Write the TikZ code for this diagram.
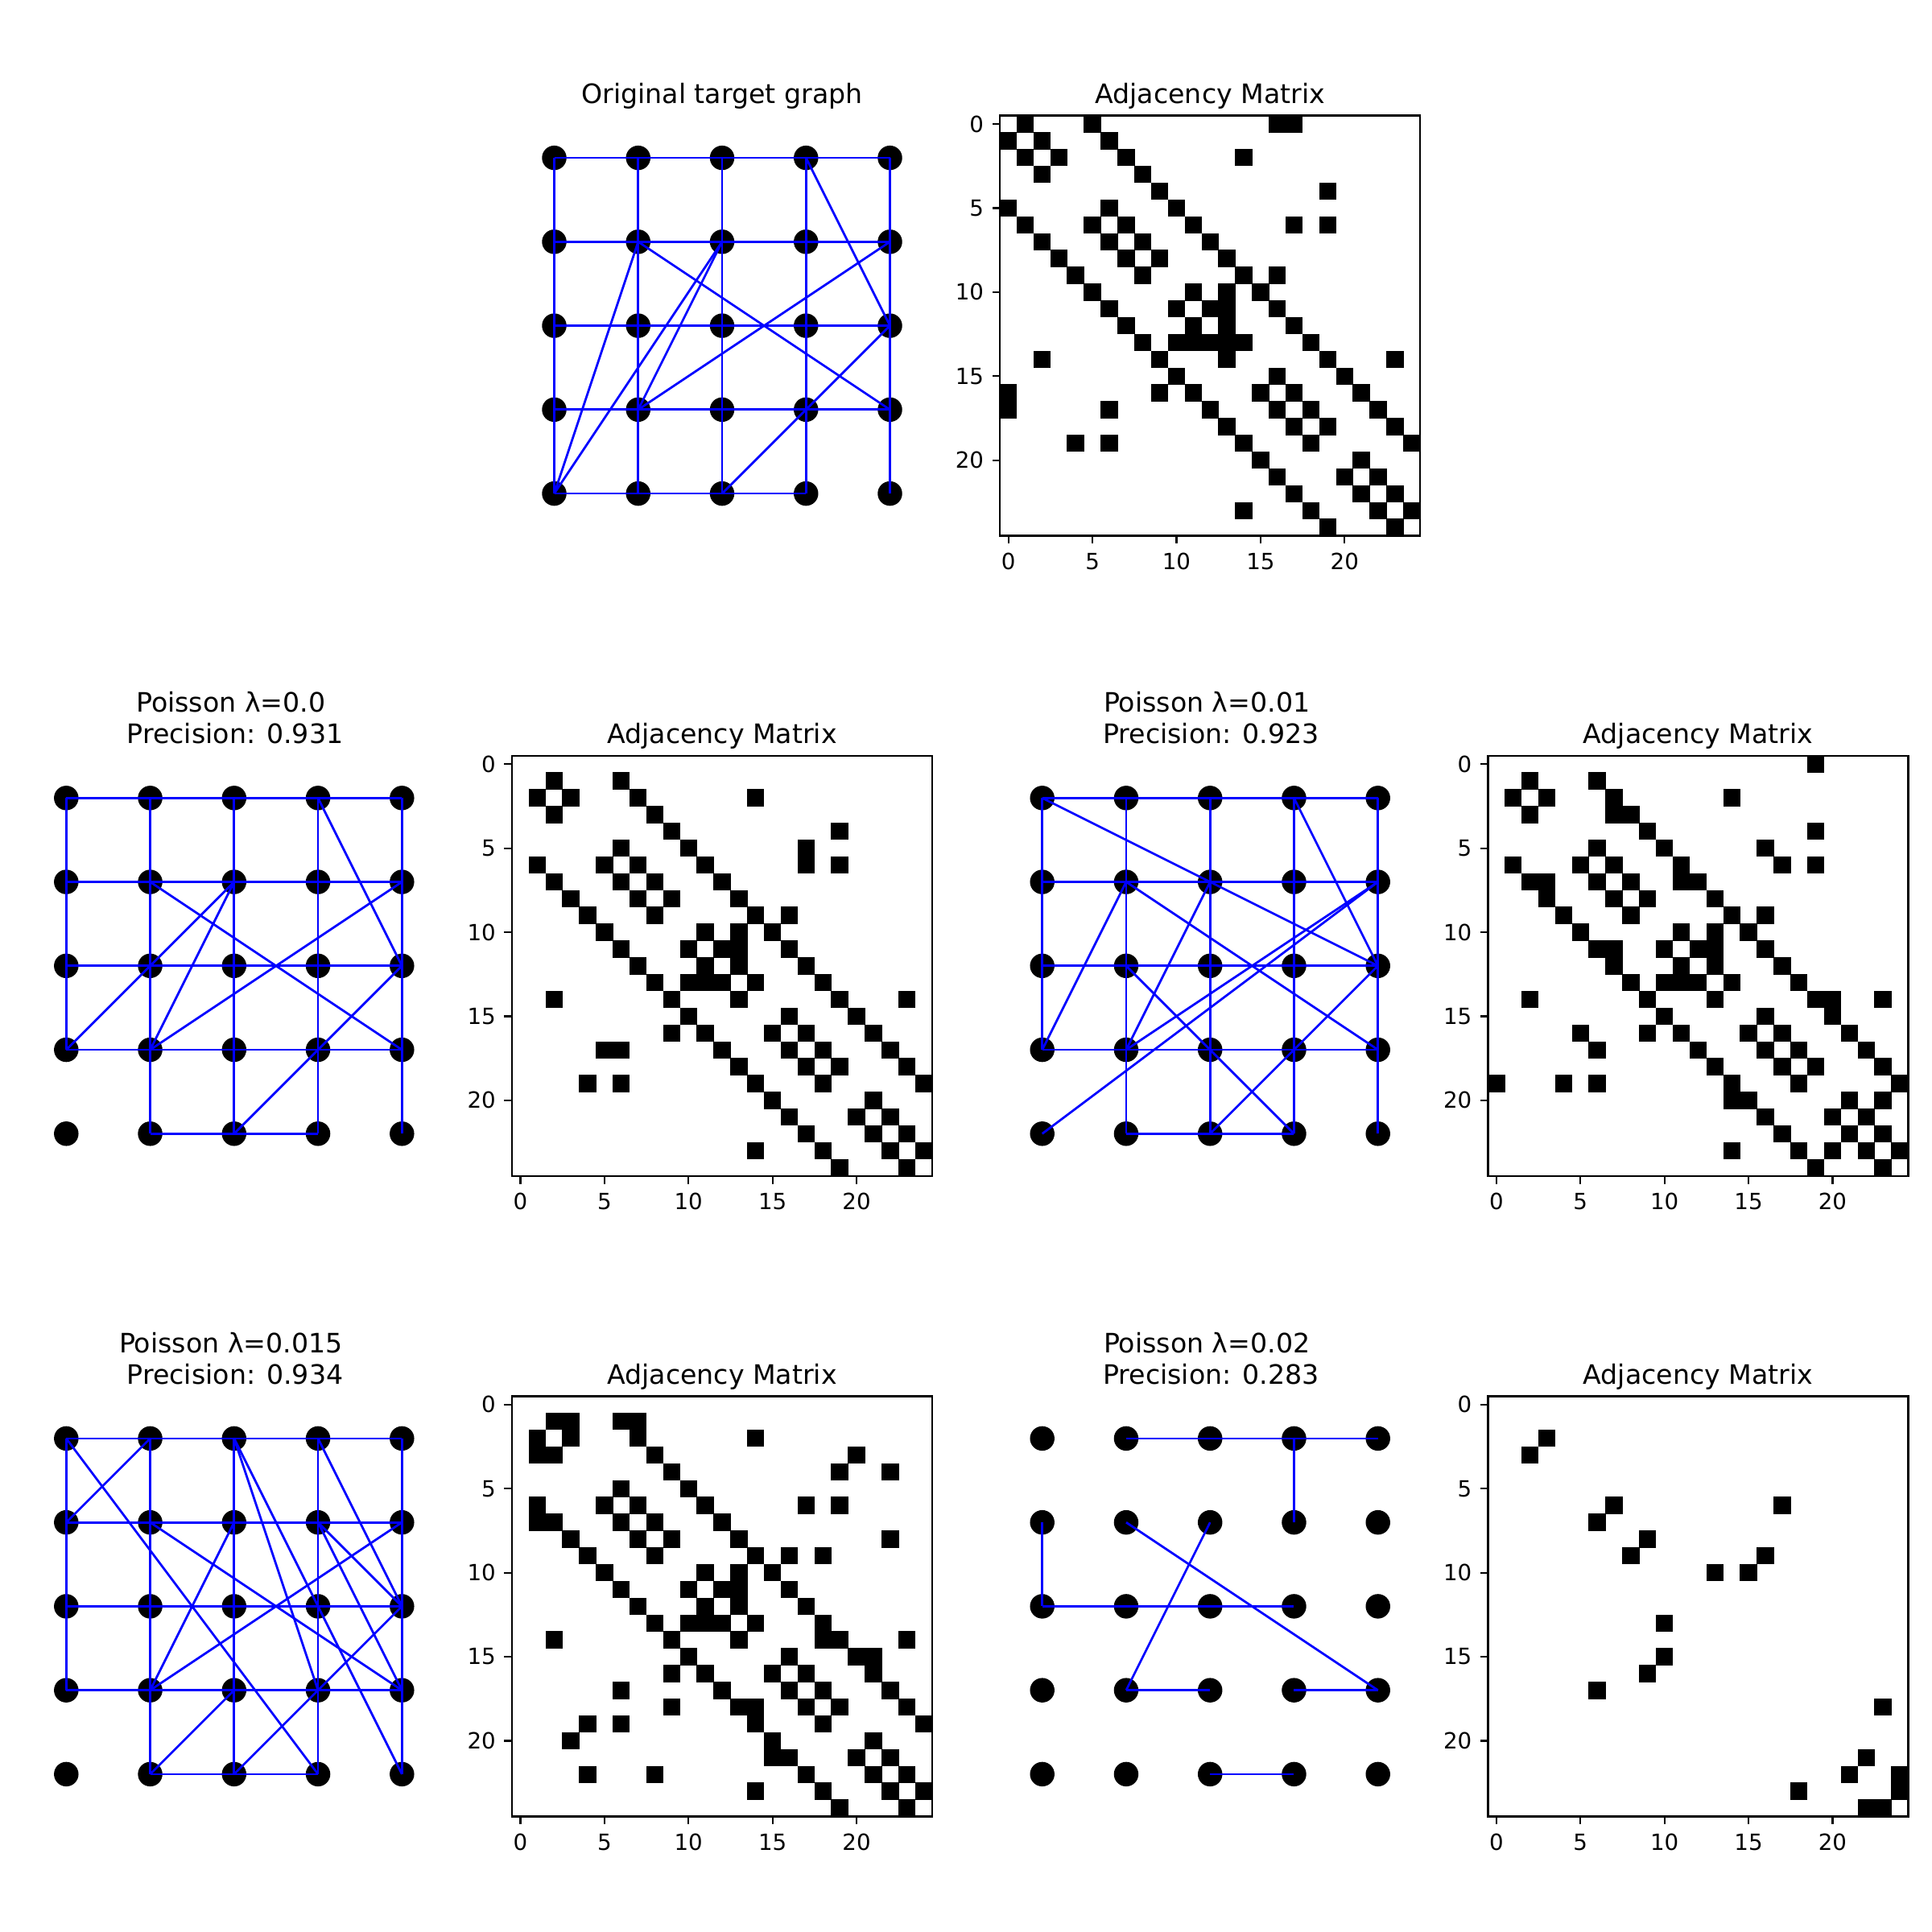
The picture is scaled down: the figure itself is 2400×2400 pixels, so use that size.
\documentclass[tikz,border=0pt]{standalone}
\usepackage{fontspec}
\setmainfont{DejaVu Sans}
\tikzset{
  gnode/.style={circle, fill=black, draw=none, inner sep=0pt, minimum size=3.87mm},
  gedge/.style={draw=blue, line width=1pt},
  spine/.style={draw=black, line width=0.8pt},
  tickmark/.style={draw=black, line width=0.8pt},
  ticklabel/.style={inner sep=0pt, font=\fontsize{10}{12}\selectfont},
  titletext/.style={inner sep=0pt, anchor=base, font=\fontsize{12}{14.4}\selectfont},
}
% #1 prefix, #2 cx, #3 cy
\newcommand\gridnodes[3]{%
  \foreach \ii in {0,...,24}{%
    \pgfmathtruncatemacro\myc{mod(\ii,5)}%
    \pgfmathtruncatemacro\myr{div(\ii,5)}%
    \node[gnode] (#1\ii) at ({#2+(\myc-2)*104.25},{#3-(\myr-2)*104.25}) {};
  }}
% #1 prefix, #2 list a/b
\newcommand\gridedges[2]{%
  \foreach \ea/\eb in {#2}{\draw[gedge] (#1\ea.center) -- (#1\eb.center);}}
% #1 prefix, #2 cx, #3 cy, #4 data rows
\newcommand\adjmat[4]{%
  \foreach \mr/\mcl in {#4}{%
    \foreach \mcc in \mcl {%
      \fill[black] ({#2-261+\mcc*20.88-0.25},{#3-261+\mr*20.88-0.25}) rectangle ++(21.38,21.38);
    }%
  }%
  \draw[spine] ({#2-261},{#3-261}) rectangle ({#2+261},{#3+261});
  \foreach \kk in {0,5,10,15,20}{%
    \draw[tickmark] ({#2-261+(\kk+0.5)*20.88},{#3+261}) -- ++(0,9.7);
    \node[ticklabel,anchor=north] (#1x\kk) at ({#2-261+(\kk+0.5)*20.88},{#3+261+21}) {\kk};
    \draw[tickmark] ({#2-261},{#3-261+(\kk+0.5)*20.88}) -- ++(-9.7,0);
    \node[ticklabel,anchor=east] (#1y\kk) at ({#2-261-19.6},{#3-261+(\kk+0.5)*20.88}) {\kk};
  }%
}
\begin{document}
\begin{tikzpicture}[x=0.127mm,y=-0.127mm]
\useasboundingbox[fill=white] (0,0) rectangle (2400,2400);

% ---------- titles ----------
\node[titletext] (t0) at (897,128.6) {Original target graph};
\node[titletext] (t1) at (1503.2,128.6) {Adjacency Matrix};
\node[titletext] (t2a) at (286.8,884.8) {Poisson λ=0.0};
\node[titletext] (t2b) at (292.1,923.8) {Precision: 0.931};
\node[titletext] (t3) at (897,923.8) {Adjacency Matrix};
\node[titletext] (t4a) at (1499.2,884.8) {Poisson λ=0.01};
\node[titletext] (t4b) at (1504.5,923.8) {Precision: 0.923};
\node[titletext] (t5) at (2109.4,923.8) {Adjacency Matrix};
\node[titletext] (t6a) at (286.8,1680.4) {Poisson λ=0.015};
\node[titletext] (t6b) at (292.1,1719.4) {Precision: 0.934};
\node[titletext] (t7) at (897,1719.4) {Adjacency Matrix};
\node[titletext] (t8a) at (1499.2,1680.4) {Poisson λ=0.02};
\node[titletext] (t8b) at (1504.5,1719.4) {Precision: 0.283};
\node[titletext] (t9) at (2109.4,1719.4) {Adjacency Matrix};

% ---------- original graph ----------
\gridnodes{gA}{897}{404.6}
\gridedges{gA}{0/1,0/5,0/16,0/17,1/2,1/6,2/3,2/7,2/14,3/8,4/9,4/19,5/6,5/10,6/7,6/11,6/17,6/19,7/8,7/12,8/9,8/13,9/14,9/16,10/11,10/13,10/15,11/12,11/13,11/16,12/13,12/17,13/14,13/18,14/19,14/23,15/16,15/20,16/17,16/21,17/18,17/22,18/19,18/23,19/24,20/21,21/22,22/23,23/24}
\adjmat{mA}{1503.2}{404.6}{0/{1,5,16,17},1/{0,2,6},2/{1,3,7,14},3/{2,8},4/{9,19},5/{0,6,10},6/{1,5,7,11,17,19},7/{2,6,8,12},8/{3,7,9,13},9/{4,8,14,16},10/{5,11,13,15},11/{6,10,12,13,16},12/{7,11,13,17},13/{8,10,11,12,13,14,18},14/{2,9,13,19,23},15/{10,16,20},16/{0,9,11,15,17,21},17/{0,6,12,16,18,22},18/{13,17,19,23},19/{4,6,14,18,24},20/{15,21},21/{16,20,22},22/{17,21,23},23/{14,18,22,24},24/{19,23}}

% ---------- lambda = 0.0 ----------
\gridnodes{gB}{290.8}{1199.8}
\gridedges{gB}{1/2,1/6,2/3,2/7,2/14,3/8,4/9,4/19,5/6,5/10,5/17,6/7,6/11,6/17,6/19,7/8,7/12,8/9,8/13,9/14,9/16,10/11,10/13,10/15,11/12,11/13,11/16,12/13,12/17,13/14,13/18,14/19,14/23,15/16,15/20,16/17,16/21,17/18,17/22,18/19,18/23,19/24,20/21,21/22,22/23,23/24}
\adjmat{mB}{897}{1199.8}{1/{2,6},2/{1,3,7,14},3/{2,8},4/{9,19},5/{6,10,17},6/{1,5,7,11,17,19},7/{2,6,8,12},8/{3,7,9,13},9/{4,8,14,16},10/{5,11,13,15},11/{6,10,12,13,16},12/{7,11,13,17},13/{8,10,11,12,14,18},14/{2,9,13,19,23},15/{10,16,20},16/{9,11,15,17,21},17/{5,6,12,16,18,22},18/{13,17,19,23},19/{4,6,14,18,24},20/{15,21},21/{16,20,22},22/{17,21,23},23/{14,18,22,24},24/{19,23}}

% ---------- lambda = 0.01 ----------
\gridnodes{gC}{1503.2}{1199.8}
\gridedges{gC}{0/19,1/2,1/6,2/3,2/7,2/14,3/7,3/8,4/9,4/19,5/6,5/10,5/16,6/7,6/11,6/17,6/19,7/8,7/11,7/12,8/9,8/13,9/14,9/16,10/11,10/13,10/15,11/12,11/13,11/16,12/13,12/17,13/14,13/18,14/19,14/20,14/23,15/16,15/20,16/17,16/21,17/18,17/22,18/19,18/23,19/24,20/21,20/23,21/22,22/23,23/24}
\adjmat{mC}{2109.4}{1199.8}{0/{19},1/{2,6},2/{1,3,7,14},3/{2,7,8},4/{9,19},5/{6,10,16},6/{1,5,7,11,17,19},7/{2,3,6,8,11,12},8/{3,7,9,13},9/{4,8,14,16},10/{5,11,13,15},11/{6,7,10,12,13,16},12/{7,11,13,17},13/{8,10,11,12,14,18},14/{2,9,13,19,20,23},15/{10,16,20},16/{5,9,11,15,17,21},17/{6,12,16,18,22},18/{13,17,19,23},19/{0,4,6,14,18,24},20/{14,15,21,23},21/{16,20,22},22/{17,21,23},23/{14,18,20,22,24},24/{19,23}}

% ---------- lambda = 0.015 ----------
\gridnodes{gD}{290.8}{1995.4}
\gridedges{gD}{1/2,1/3,1/6,1/7,2/3,2/7,2/14,3/8,3/20,4/9,4/19,4/22,5/6,5/10,6/7,6/11,6/17,6/19,7/8,7/12,8/9,8/13,8/22,9/14,9/16,9/18,10/11,10/13,10/15,11/12,11/13,11/16,12/13,12/17,13/14,13/18,14/18,14/19,14/23,15/16,15/20,15/21,16/17,16/21,17/18,17/22,18/19,18/23,19/24,20/21,21/22,22/23,23/24}
\adjmat{mD}{897}{1995.4}{1/{2,3,6,7},2/{1,3,7,14},3/{1,2,8,20},4/{9,19,22},5/{6,10},6/{1,5,7,11,17,19},7/{1,2,6,8,12},8/{3,7,9,13,22},9/{4,8,14,16,18},10/{5,11,13,15},11/{6,10,12,13,16},12/{7,11,13,17},13/{8,10,11,12,14,18},14/{2,9,13,18,19,23},15/{10,16,20,21},16/{9,11,15,17,21},17/{6,12,16,18,22},18/{9,13,14,17,19,23},19/{4,6,14,18,24},20/{3,15,21},21/{15,16,20,22},22/{4,8,17,21,23},23/{14,18,22,24},24/{19,23}}

% ---------- lambda = 0.02 ----------
\gridnodes{gE}{1503.2}{1995.4}
\gridedges{gE}{2/3,6/7,6/17,8/9,9/16,10/13,10/15,18/23,21/22,22/24,23/24}
\adjmat{mE}{2109.4}{1995.4}{2/{3},3/{2},6/{7,17},7/{6},8/{9},9/{8,16},10/{13,15},13/{10},15/{10},16/{9},17/{6},18/{23},21/{22},22/{21,24},23/{18,24},24/{22,23}}

\end{tikzpicture}
\end{document}
